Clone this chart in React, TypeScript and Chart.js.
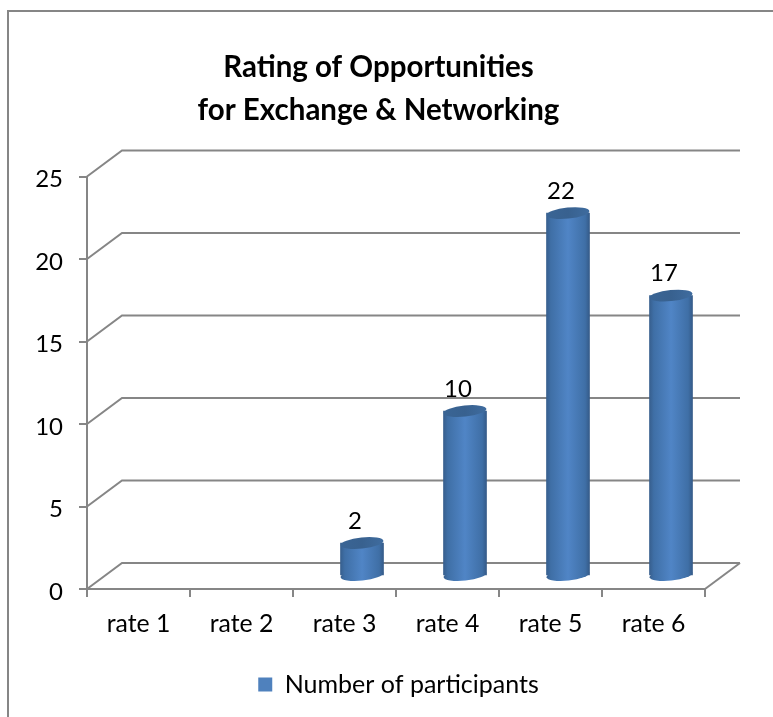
import React, { useEffect, useRef } from "react";
import { Chart, registerables } from "chart.js";

Chart.register(...registerables);

const categories = ["rate 1", "rate 2", "rate 3", "rate 4", "rate 5", "rate 6"];
const participants = [null, null, 2, 10, 22, 17];
const seriesName = "Number of participants";
const titleLines = ["Rating of Opportunities", "for Exchange & Networking"];
const yTicks = [0, 5, 10, 15, 20, 25];

const FONT = "Lato, 'Open Sans', sans-serif";
const GREY = "#868686";
const DEPTH_X = 35;
const DEPTH_Y = -26;
const BAR_WIDTH = 43;

function sideGradient(ctx: CanvasRenderingContext2D, left: number, right: number) {
  const g = ctx.createLinearGradient(left, 0, right, 0);
  g.addColorStop(0, "#375f8e");
  g.addColorStop(0.1, "#3f6fa6");
  g.addColorStop(0.5, "#5085c6");
  g.addColorStop(0.9, "#3f6fa6");
  g.addColorStop(1, "#355b89");
  return g;
}

const wallsPlugin = {
  id: "walls",
  beforeDatasetsDraw(chart: any) {
    const { ctx, scales, chartArea } = chart;
    const y = scales.y;
    ctx.save();
    ctx.strokeStyle = GREY;
    ctx.lineWidth = 2;
    yTicks.forEach((v) => {
      const py = y.getPixelForValue(v);
      ctx.beginPath();
      ctx.moveTo(chartArea.left, py);
      ctx.lineTo(chartArea.left + DEPTH_X, py + DEPTH_Y);
      ctx.lineTo(chartArea.right + DEPTH_X, py + DEPTH_Y);
      ctx.stroke();
    });
    ctx.beginPath();
    ctx.moveTo(chartArea.right, y.getPixelForValue(0));
    ctx.lineTo(chartArea.right + DEPTH_X, y.getPixelForValue(0) + DEPTH_Y);
    ctx.stroke();
    ctx.restore();
  },
};

const cylinderPlugin = {
  id: "cylinder",
  beforeDatasetDraw(chart: any) {
    const { ctx } = chart;
    ctx.save();
    ctx.beginPath();
    ctx.rect(0, 0, chart.width, chart.height);
    ctx.clip();
    ctx.translate(DEPTH_X / 2, DEPTH_Y / 2);
    chart.getDatasetMeta(0).data.forEach((bar: any, i: number) => {
      if (participants[i] == null) return;
      const r = bar.width / 2;
      ctx.fillStyle = sideGradient(ctx, bar.x - r, bar.x + r);
      ctx.beginPath();
      ctx.ellipse(bar.x, bar.base, r, 5.5, -0.1, 0, Math.PI * 2);
      ctx.fill();
    });
  },
  afterDatasetDraw(chart: any) {
    const { ctx } = chart;
    chart.getDatasetMeta(0).data.forEach((bar: any, i: number) => {
      if (participants[i] == null) return;
      const r = bar.width / 2;
      const g = ctx.createLinearGradient(bar.x - r, 0, bar.x + r, 0);
      g.addColorStop(0, "#3a6595");
      g.addColorStop(0.5, "#38618f");
      g.addColorStop(1, "#3f6c9f");
      ctx.fillStyle = g;
      ctx.beginPath();
      ctx.ellipse(bar.x, bar.y, r, 5.5, -0.1, 0, Math.PI * 2);
      ctx.fill();
    });
    ctx.restore();
  },
  afterDatasetsDraw(chart: any) {
    const { ctx } = chart;
    ctx.save();
    ctx.fillStyle = "#000";
    ctx.font = `24px ${FONT}`;
    ctx.textAlign = "center";
    ctx.textBaseline = "middle";
    chart.getDatasetMeta(0).data.forEach((bar: any, i: number) => {
      const v = participants[i];
      if (v == null) return;
      ctx.fillText(String(v), bar.x + DEPTH_X / 2 - 7, bar.y + DEPTH_Y / 2 - 22);
    });
    ctx.restore();
  },
};

const framePlugin = {
  id: "frame",
  afterLayout(chart: any) {
    chart.titleBlock.left += 26;
    chart.titleBlock.right += 26;
    chart.legend.left += 46;
    chart.legend.right += 46;
    chart.legend.top -= 10;
    chart.legend.bottom -= 10;
  },
  beforeDraw(chart: any) {
    const { ctx, width, height } = chart;
    ctx.save();
    ctx.fillStyle = "#fff";
    ctx.fillRect(0, 0, width, height);
    ctx.strokeStyle = GREY;
    ctx.lineWidth = 2;
    ctx.beginPath();
    ctx.moveTo(8, height);
    ctx.lineTo(8, 11);
    ctx.lineTo(width, 11);
    ctx.stroke();
    ctx.restore();
  },
};

export default function App() {
  const ref = useRef<HTMLCanvasElement>(null);
  useEffect(() => {
    document.body.style.margin = "0";
    const chart = new Chart(ref.current as HTMLCanvasElement, {
      type: "bar",
      data: {
        labels: categories,
        datasets: [
          {
            label: seriesName,
            data: participants,
            backgroundColor: (c: any) => {
              const x = c.chart.scales.x.getPixelForValue(c.dataIndex);
              return sideGradient(c.chart.ctx, x - BAR_WIDTH / 2, x + BAR_WIDTH / 2);
            },
            borderWidth: 0,
            barThickness: BAR_WIDTH,
          },
        ],
      },
      options: {
        animation: false,
        responsive: false,
        layout: { padding: { left: 0, right: 68, top: 0, bottom: 0 } },
        plugins: {
          title: {
            display: true,
            text: titleLines,
            color: "#000",
            font: { family: FONT, size: 29.5, weight: "bold", lineHeight: 1.45 },
            padding: { top: 46, bottom: 45 },
          },
          legend: {
            position: "bottom",
            labels: {
              color: "#000",
              font: { family: FONT, size: 25 },
              boxWidth: 14,
              boxHeight: 14,
              padding: 20,
              generateLabels: () => [
                {
                  text: seriesName,
                  fillStyle: "#4f81bd",
                  strokeStyle: "#4f81bd",
                  lineWidth: 0,
                  fontColor: "#000",
                  datasetIndex: 0,
                },
              ],
            },
          },
          tooltip: { enabled: false },
        },
        scales: {
          x: {
            grid: { drawOnChartArea: false, color: GREY, lineWidth: 2, tickLength: 8 },
            border: { color: GREY, width: 2 },
            ticks: { color: "#000", font: { family: FONT, size: 24.8 }, padding: 12 },
            afterFit: (s: any) => {
              s.height = 73;
            },
          },
          y: {
            min: 0,
            max: 25,
            afterBuildTicks: (s: any) => {
              s.ticks = yTicks.map((value) => ({ value }));
            },
            grid: { drawOnChartArea: false, color: GREY, lineWidth: 2, tickLength: 8 },
            border: { color: GREY, width: 2 },
            ticks: { color: "#000", font: { family: FONT, size: 24 }, padding: 16, labelOffset: 3 },
            afterFit: (s: any) => {
              s.width = 87;
            },
          },
        },
      },
      plugins: [framePlugin, wallsPlugin, cylinderPlugin],
    } as any);
    return () => chart.destroy();
  }, []);
  return <canvas ref={ref} width={773} height={717} style={{ display: "block" }} />;
}
